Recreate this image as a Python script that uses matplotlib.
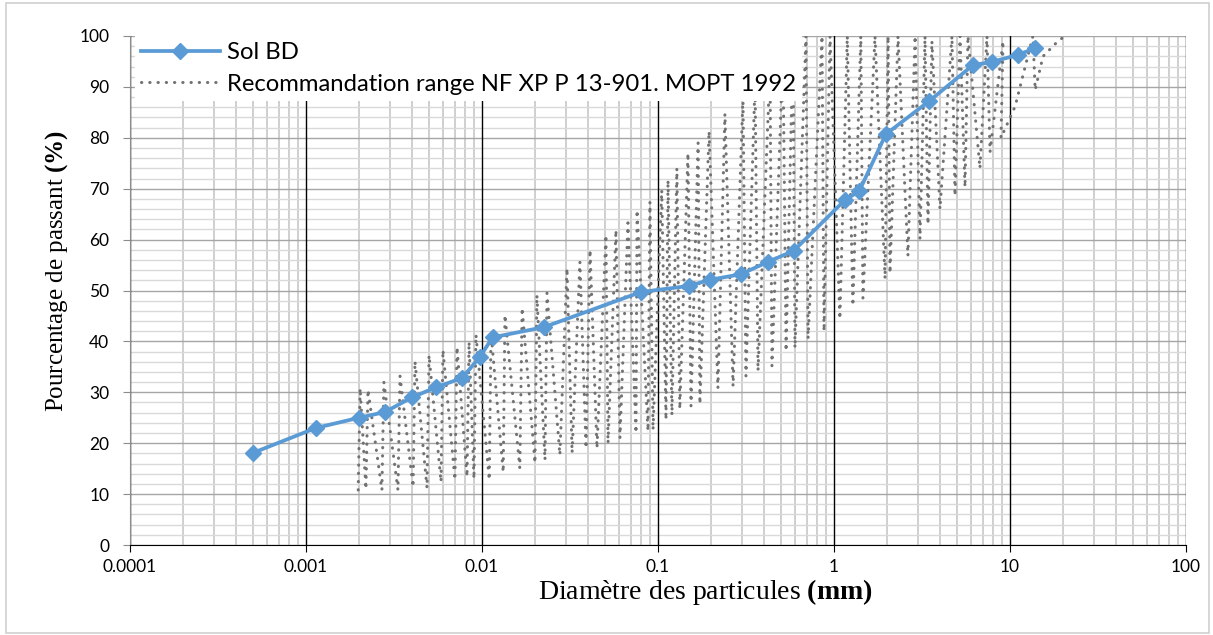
import matplotlib
matplotlib.use("Agg")
import matplotlib.pyplot as plt
from matplotlib.ticker import LogLocator, MultipleLocator, NullFormatter
from matplotlib.patches import Rectangle

plt.rcParams['font.family'] = ['Lato', 'DejaVu Sans']
plt.rcParams['mathtext.fontset'] = 'custom'
plt.rcParams['mathtext.rm'] = 'Liberation Serif'
plt.rcParams['mathtext.bf'] = 'Liberation Serif:bold'

# Sol BD grading curve (mm, % passing)
sol_d = [0.0005, 0.00114, 0.002, 0.0028, 0.004, 0.0055, 0.0077, 0.0097, 0.0115,
         0.0225, 0.08, 0.15, 0.197, 0.296, 0.42, 0.59, 1.156, 1.39, 1.97,
         3.47, 6.17, 7.9, 11.1, 13.9]
sol_p = [18.1, 23.0, 25.0, 26.1, 29.0, 31.0, 32.8, 36.9, 40.8,
         42.8, 49.7, 50.9, 52.1, 53.2, 55.6, 57.8, 67.8, 69.5, 80.7,
         87.2, 94.3, 94.9, 96.3, 97.6]

# recommendation range, drawn as a zigzag between lower and upper limits
rec_d = [0.00198, 0.00203, 0.00219, 0.00225, 0.0027, 0.00277, 0.00333, 0.00342,
         0.00406, 0.00416, 0.00487, 0.005, 0.00585, 0.006, 0.00702, 0.00721,
         0.00822, 0.00844, 0.009, 0.00924, 0.011, 0.01125, 0.0132, 0.0135,
         0.0164, 0.0169, 0.02, 0.0205, 0.0228, 0.0234, 0.0277, 0.0304,
         0.0325, 0.036, 0.039, 0.0411, 0.045, 0.0506, 0.052, 0.0577,
         0.0608, 0.0675, 0.075, 0.076, 0.0877, 0.09, 0.0937, 0.105,
         0.111, 0.114, 0.12, 0.128, 0.133, 0.148, 0.154, 0.169,
         0.173, 0.195, 0.219, 0.24, 0.267, 0.304, 0.316, 0.356,
         0.37, 0.433, 0.444, 0.513, 0.534, 0.585, 0.6, 0.693,
         0.712, 0.855, 0.877, 0.949, 1.08, 1.19, 1.28, 1.42,
         1.46, 1.71, 1.95, 2.03, 2.08, 2.31, 2.63, 2.89,
         3.08, 3.29, 3.42, 3.6, 4.0, 4.68, 4.87, 5.2,
         5.55, 5.77, 6.75, 7.4, 7.7, 9.13, 8.89, 10.7,
         13.5, 13.9, 15.4, 18.5, 20.5]
rec_p = [10.8, 30.8, 11.0, 30.5, 10.8, 32.0, 10.8, 33.2,
         11.4, 36.1, 11.2, 37.3, 12.4, 38.3, 12.8, 38.9,
         13.4, 39.9, 13.0, 41.3, 12.8, 41.8, 14.3, 45.2,
         15.1, 46.6, 16.1, 49.1, 16.7, 49.5, 17.7, 54.4,
         18.1, 55.6, 19.0, 58.0, 19.0, 60.9, 20.0, 61.9,
         21.0, 63.3, 22.0, 65.8, 22.4, 67.4, 22.6, 69.7,
         24.6, 71.7, 25.5, 74.0, 26.7, 77.0, 27.3, 79.0,
         27.7, 81.3, 30.8, 84.7, 31.2, 88.0, 33.2, 91.0,
         34.2, 94.0, 35.2, 97.0, 38.1, 99.0, 38.7, 100,
         40.5, 100, 42.0, 100, 44.4, 100, 47.0, 100,
         48.5, 100, 52.3, 100, 53.4, 100, 56.8, 100,
         60.1, 100, 63.0, 99, 66.0, 100, 68.6, 100,
         70.3, 100, 74.0, 100, 77.2, 99, 80.0, 86.2,
         100, 89.4, 96.0, 98.8, 100]

xticks = [0.0001, 0.001, 0.01, 0.1, 1, 10, 100]
xtick_labels = ['0.0001', '0.001', '0.01', '0.1', '1', '10', '100']
yticks = [0, 10, 20, 30, 40, 50, 60, 70, 80, 90, 100]

fig = plt.figure(figsize=(12.13, 6.35), dpi=100)
ax = fig.add_axes([130/1213, 1-545/635, (1186-130)/1213, (545-36)/635])

ax.plot(rec_d, rec_p, color='#727272', lw=2.2, linestyle=(0, (0.1, 2.6)),
        dash_capstyle='round', zorder=3,
        label='Recommandation range NF XP P 13-901. MOPT 1992')
ax.plot(sol_d, sol_p, color='#5b9bd5', lw=2.7, marker='D', markersize=8.5,
        zorder=4, label='Sol BD')

ax.set_xscale('log')
ax.set_xlim(1e-4, 100)
ax.set_ylim(0, 100)
ax.set_xticks(xticks)
ax.set_xticklabels(xtick_labels)
ax.xaxis.set_minor_locator(LogLocator(base=10, subs=range(2, 10)))
ax.xaxis.set_minor_formatter(NullFormatter())
ax.set_yticks(yticks)
ax.yaxis.set_minor_locator(MultipleLocator(2))

# minor grid below, major grid lines on top of it
ax.grid(True, which='minor', axis='y', color='#d9d9d9', lw=1.0)
ax.grid(True, which='minor', axis='x', color='#cccccc', lw=1.3)
ax.set_axisbelow(True)
for yv in yticks:
    ax.axhline(yv, color='#a6a6a6', lw=1.0, zorder=1)
for xv in xticks:
    ax.axvline(xv, color='black', lw=1.0, zorder=1.1)

for s in ['top', 'right']:
    ax.spines[s].set_visible(False)
ax.spines['left'].set_color('#8c8c8c')
ax.spines['bottom'].set_color('black')
ax.tick_params(axis='both', which='minor', length=0)
ax.tick_params(axis='x', which='major', length=5, color='black', pad=5, labelsize=12.5)
ax.tick_params(axis='y', which='major', length=5, color='#8c8c8c', pad=10, labelsize=12.5)

handles, labels = ax.get_legend_handles_labels()
leg = ax.legend(handles[::-1], labels[::-1], loc='upper left',
                bbox_to_anchor=(5/1056, 1), borderaxespad=0, fontsize=17.2,
                handlelength=3.3, handletextpad=0.3, labelspacing=0.45,
                borderpad=0.25, frameon=True, framealpha=1, facecolor='white',
                edgecolor='none', fancybox=False)
leg.set_zorder(6)

fig.text(57/1213, 1-271/635, r'Pourcentage de passant $\mathbf{(\%)}$', rotation=90,
         ha='center', va='center', family='Liberation Serif', fontsize=18)
fig.text(705/1213, 1-592/635, r'Diamètre des particules $\mathbf{(mm)}$',
         ha='center', va='center', family='Liberation Serif', fontsize=20)

fig.patches.append(Rectangle((6/1213, 2/635), 1-10/1213, 1-5/635, transform=fig.transFigure,
                             fill=False, edgecolor='#d0d0d0', lw=1.2))

fig.savefig('out.png', dpi=100)
